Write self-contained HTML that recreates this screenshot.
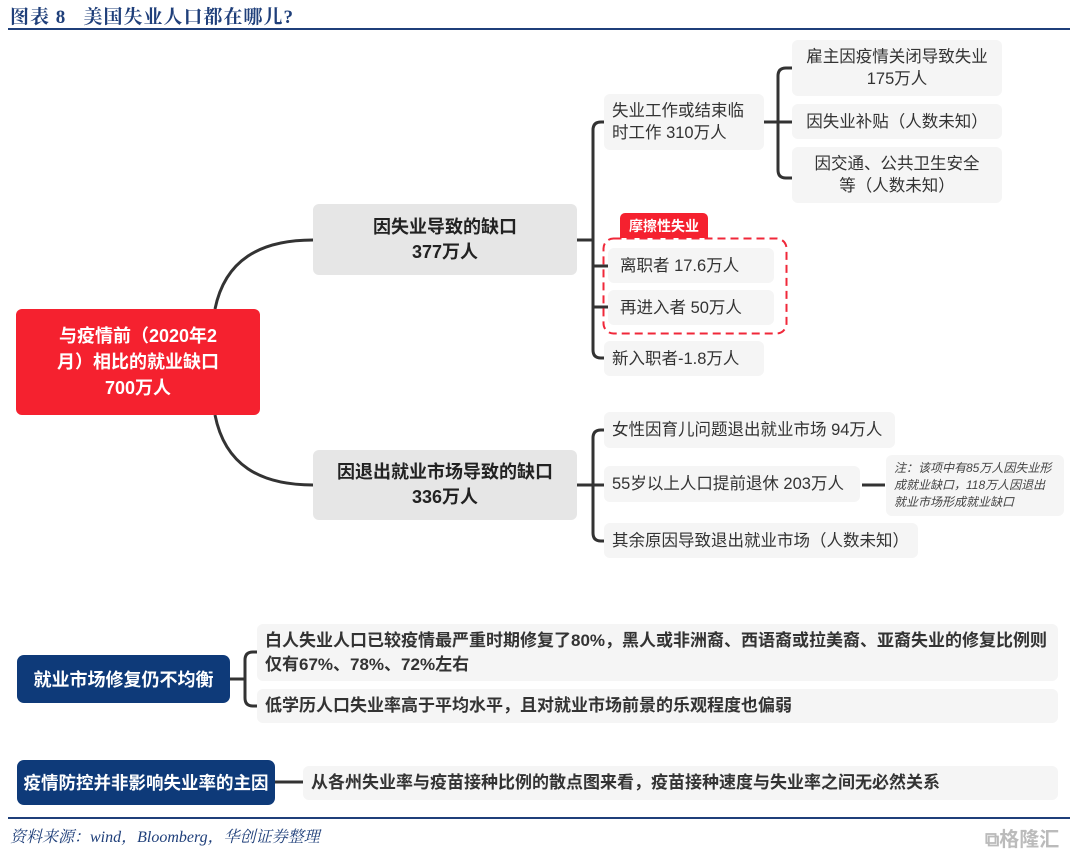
<!DOCTYPE html>
<html><head><meta charset="utf-8"><style>
body{margin:0;width:1080px;height:856px;background:#fff;position:relative;overflow:hidden;font-family:"Liberation Sans","Noto Sans CJK SC",sans-serif;}
.a{position:absolute;box-sizing:border-box;}
.g{background:#f5f5f5;border-radius:6px;color:#333;font-size:16.5px;line-height:22px;padding:0 8px;display:flex;align-items:center;}
.G{background:#e6e6e6;border-radius:6px;color:#222;font-size:18px;font-weight:bold;line-height:25px;text-align:center;display:flex;align-items:center;justify-content:center;}
.c{justify-content:center;text-align:center;}
.n{background:#0e3a79;border-radius:7px;color:#fff;font-weight:bold;font-size:18px;display:flex;align-items:center;justify-content:center;}
</style></head><body>
<div class="a" style="left:10px;top:2px;font-family:'Liberation Serif','Noto Serif CJK SC',serif;font-weight:bold;font-size:19px;color:#1f3f7a;letter-spacing:1px;">图表 8&nbsp;&nbsp;&nbsp;美国失业人口都在哪儿?</div>
<div class="a" style="left:8px;top:28px;width:1062px;height:2px;background:#1f3f7a;"></div>

<svg class="a" style="left:0;top:0" width="1080" height="856">
<g fill="none" stroke="#333" stroke-width="3">
<path d="M215 309 C225 260 260 240 313 240"/>
<path d="M215 415 C225 465 260 485 313 485"/>
<path d="M577 240 H593 M593 130 Q593 122 601 122 H604 M593 130 V350 Q593 358 601 358 H604 M593 266 H608 M593 307 H608"/>
<path d="M764 122 H778 M778 76 Q778 68 786 68 H792 M778 76 V170 Q778 178 786 178 H792 M778 122 H792"/>
<path d="M577 485 H593 M593 438 Q593 430 601 430 H604 M593 438 V533 Q593 541 601 541 H604 M593 485 H604"/>
<path d="M862 485 H885"/>
<path d="M230 679 H245 M245 660 Q245 652 253 652 H257 M245 660 V698 Q245 706 253 706 H257"/>
<path d="M275 782 H303"/>
</g>
<rect x="603.5" y="238.5" width="183" height="95" rx="10" fill="none" stroke="#f0283a" stroke-width="2" stroke-dasharray="8,5"/>
</svg>

<div class="a" style="left:16px;top:309px;width:244px;height:106px;background:#f5212f;border-radius:6px;color:#fff;font-weight:bold;font-size:18px;line-height:26px;text-align:center;display:flex;align-items:center;justify-content:center;padding:0 34px;">与疫情前（2020年2月）相比的就业缺口<br>700万人</div>

<div class="a G" style="left:313px;top:204px;width:264px;height:71px;">因失业导致的缺口<br>377万人</div>
<div class="a G" style="left:313px;top:450px;width:264px;height:70px;">因退出就业市场导致的缺口<br>336万人</div>

<div class="a g" style="left:604px;top:94px;width:160px;height:56px;">失业工作或结束临时工作 310万人</div>
<div class="a g c" style="left:792px;top:40px;width:210px;height:56px;">雇主因疫情关闭导致失业<br>175万人</div>
<div class="a g c" style="left:792px;top:104px;width:210px;height:35px;">因失业补贴（人数未知）</div>
<div class="a g c" style="left:792px;top:147px;width:210px;height:56px;padding:0 18px;">因交通、公共卫生安全等（人数未知）</div>

<div class="a" style="left:620px;top:213px;width:88px;height:25px;background:#f5212f;border-radius:5px 5px 0 0;color:#fff;font-weight:bold;font-size:14px;display:flex;align-items:center;justify-content:center;">摩擦性失业</div>
<div class="a g" style="left:608px;top:248px;width:166px;height:35px;padding-left:12px;">离职者 17.6万人</div>
<div class="a g" style="left:608px;top:290px;width:166px;height:35px;padding-left:12px;">再进入者 50万人</div>
<div class="a g" style="left:604px;top:341px;width:160px;height:35px;">新入职者-1.8万人</div>

<div class="a g" style="left:604px;top:412px;width:291px;height:36px;">女性因育儿问题退出就业市场 94万人</div>
<div class="a g" style="left:604px;top:466px;width:256px;height:36px;">55岁以上人口提前退休 203万人</div>
<div class="a g" style="left:886px;top:455px;width:178px;height:61px;font-size:12px;line-height:17px;font-style:italic;color:#444;">注：该项中有85万人因失业形成就业缺口，118万人因退出就业市场形成就业缺口</div>
<div class="a g" style="left:604px;top:523px;width:314px;height:35px;">其余原因导致退出就业市场（人数未知）</div>

<div class="a n" style="left:17px;top:655px;width:213px;height:48px;">就业市场修复仍不均衡</div>
<div class="a g" style="left:257px;top:624px;width:801px;height:57px;font-weight:bold;font-size:17px;line-height:24px;padding-right:4px;">白人失业人口已较疫情最严重时期修复了80%，黑人或非洲裔、西语裔或拉美裔、亚裔失业的修复比例则仅有67%、78%、72%左右</div>
<div class="a g" style="left:257px;top:689px;width:801px;height:34px;font-weight:bold;font-size:17px;">低学历人口失业率高于平均水平，且对就业市场前景的乐观程度也偏弱</div>
<div class="a n" style="left:17px;top:760px;width:258px;height:45px;font-size:17.5px;">疫情防控并非影响失业率的主因</div>
<div class="a g" style="left:303px;top:766px;width:755px;height:34px;font-weight:bold;font-size:17px;">从各州失业率与疫苗接种比例的散点图来看，疫苗接种速度与失业率之间无必然关系</div>

<div class="a" style="left:8px;top:817px;width:1062px;height:2px;background:#1f3f7a;"></div>
<div class="a" style="left:10px;top:824px;font-family:'Liberation Serif','Noto Serif CJK SC',serif;font-style:italic;font-size:16px;color:#1f3f7a;">资料来源：wind，Bloomberg，华创证券整理</div>
<div class="a" style="left:985px;top:823px;font-size:20px;color:#bbb;font-weight:bold;">⧉格隆汇</div>
</body></html>
